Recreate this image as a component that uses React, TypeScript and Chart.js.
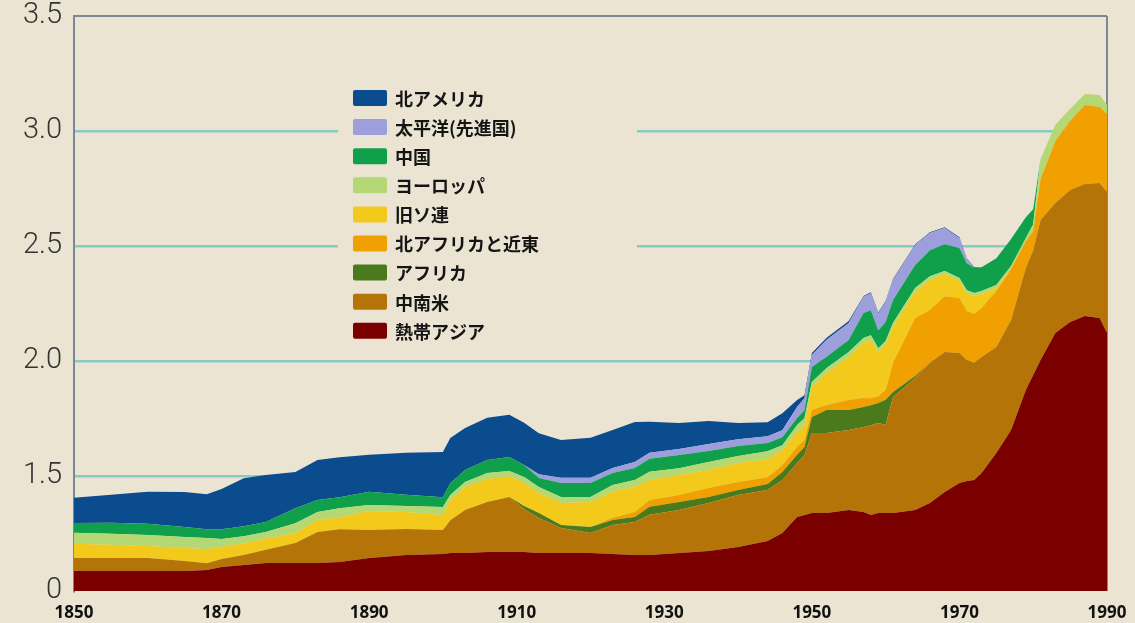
import React, { useEffect, useRef } from 'react';
import { Chart, registerables } from 'chart.js';

Chart.register(...registerables);

// ---- data (values in GtC above the axis base; the axis base is labelled "0") ----
const years = [
  1850, 1855, 1860, 1865, 1868, 1870, 1873, 1876, 1880, 1883,
  1886, 1890, 1895, 1900, 1901, 1903, 1906, 1909, 1911, 1913,
  1916, 1920, 1923, 1926, 1928, 1932, 1936, 1940, 1944, 1946,
  1948, 1949, 1950, 1952, 1955, 1957, 1958, 1959, 1960, 1961,
  1964, 1966, 1968, 1970, 1971, 1972, 1973, 1975, 1977, 1979,
  1980, 1981, 1983, 1985, 1987, 1989, 1990,
];

const tropicalAsia = [
  .087, .087, .087, .087, .091, .104, .113, .122, .122, .122,
  .126, .143, .157, .161, .165, .165, .170, .170, .170, .165,
  .165, .165, .161, .157, .157, .165, .174, .191, .217, .252,
  .322, .330, .339, .339, .352, .343, .330, .339, .339, .339,
  .352, .383, .430, .470, .478, .483, .513, .600, .700, .874,
  .939, 1.004, 1.122, 1.170, 1.196, 1.187, 1.122,
];

const latinAmerica = [
  .057, .057, .057, .043, .030, .035, .043, .057, .087, .135,
  .143, .122, .113, .104, .143, .187, .217, .239, .187, .152,
  .109, .087, .126, .143, .174, .187, .209, .226, .222, .230,
  .235, .261, .348, .348, .348, .370, .391, .391, .383, .504,
  .574, .609, .609, .565, .526, .509, .504, .461, .478, .530,
  .543, .609, .565, .574, .574, .587, .613,
];

const africa = [
  0, 0, 0, 0, 0, 0, 0, 0, 0, 0,
  0, 0, 0, 0, 0, 0, 0, 0, .013, .022,
  .013, .026, .022, .022, .035, .035, .026, .022, .026, .035,
  .035, .035, .070, .100, .087, .087, .087, .087, .109, .022,
  .009, 0, 0, 0, 0, 0, 0, 0, 0, 0,
  0, 0, 0, 0, 0, 0, 0,
];

const northAfricaNearEast = [
  0, 0, 0, 0, 0, 0, 0, 0, 0, 0,
  0, 0, 0, 0, 0, 0, 0, 0, 0, 0,
  0, 0, .009, .022, .030, .030, .039, .035, .030, .030,
  .035, .030, .030, .022, .043, .039, .030, .030, .043, .126,
  .252, .230, .243, .239, .213, .213, .213, .243, .222, .117,
  .083, .178, .270, .300, .343, .330, .339,
];

const formerUSSR = [
  .061, .057, .052, .057, .061, .052, .052, .048, .043, .052,
  .052, .083, .074, .065, .087, .100, .100, .091, .100, .087,
  .096, .109, .113, .109, .087, .087, .078, .083, .078, .065,
  .065, .065, .100, .139, .187, .239, .252, .191, .196, .157,
  .113, .130, .096, .074, .078, .078, .061, .013, 0, 0,
  0, 0, 0, 0, 0, 0, 0,
];

const europe = [
  .048, .048, .048, .048, .048, .035, .030, .030, .043, .035,
  .039, .026, .026, .035, .022, .022, .026, .022, .026, .026,
  .026, .022, .030, .030, .035, .030, .035, .030, .035, .022,
  .030, .030, .022, .022, .022, .022, .022, .017, .017, .017,
  .017, .017, .013, .013, .013, .013, .013, .013, .013, .013,
  .030, .087, .070, .052, .048, .052, .039,
];

const china = [
  .043, .048, .048, .043, .039, .043, .043, .043, .065, .052,
  .048, .057, .048, .043, .052, .052, .057, .061, .052, .039,
  .061, .061, .052, .052, .057, .057, .048, .043, .035, .035,
  .030, .035, .065, .048, .052, .109, .109, .078, .083, .100,
  .100, .113, .117, .130, .117, .109, .104, .117, .117, .091,
  .065, 0, 0, 0, 0, 0, 0,
];

const pacific = [
  0, 0, 0, 0, 0, 0, 0, 0, 0, 0,
  0, 0, 0, 0, 0, 0, 0, 0, 0, .017,
  .022, .022, .022, .026, .026, .026, .030, .030, .030, .030,
  .048, .052, .052, .074, .074, .070, .074, .074, .087, .087,
  .087, .074, .070, .043, .017, 0, 0, 0, 0, 0,
  0, 0, 0, 0, 0, 0, 0,
];

const northAmerica = [
  .109, .122, .139, .152, .152, .174, .209, .204, .157, .174,
  .174, .161, .183, .196, .196, .183, .183, .183, .183, .178,
  .165, .174, .165, .174, .135, .113, .100, .070, .061, .074,
  .030, .013, .009, .009, .009, .004, .004, .004, .004, .004,
  .004, .004, .004, .004, .004, .004, 0, 0, 0, 0,
  0, 0, 0, 0, 0, 0, 0,
];

// stacking order: bottom -> top
const seriesNames = [
  '熱帯アジア', '中南米', 'アフリカ', '北アフリカと近東', '旧ソ連',
  'ヨーロッパ', '中国', '太平洋(先進国)', '北アメリカ',
];
const seriesValues = [
  tropicalAsia, latinAmerica, africa, northAfricaNearEast, formerUSSR,
  europe, china, pacific, northAmerica,
];
const seriesColors = [
  '#7a0000', '#b47407', '#4b7a1c', '#f0a000', '#f3c91c',
  '#b4d873', '#10a04c', '#9c9fdc', '#0b4c8e',
];

const xTickValues = [1850, 1870, 1890, 1910, 1930, 1950, 1970, 1990];
const yTickValues = [0, 0.5, 1.0, 1.5, 2.0, 2.5];
const yTickLabels = ['0', '1.5', '2.0', '2.5', '3.0', '3.5'];

const BG = '#ebe4d3';
const FRAME = '#7b8893';
const GRID = '#86cbc4';

const legendPlugin = {
  id: 'boxLegend',
  afterDatasetsDraw(chart: any) {
    const ctx = chart.ctx as CanvasRenderingContext2D;
    ctx.save();
    ctx.fillStyle = BG;
    ctx.fillRect(338, 84, 299, 262);
    ctx.font = 'bold 18px "Noto Sans CJK JP", "Noto Sans", sans-serif';
    ctx.textBaseline = 'middle';
    ctx.textAlign = 'left';
    const n = seriesNames.length;
    for (let k = 0; k < n; k++) {
      const i = n - 1 - k;
      const cy = 98 + k * 29.1;
      ctx.fillStyle = seriesColors[i];
      ctx.beginPath();
      (ctx as any).roundRect ? (ctx as any).roundRect(353, cy - 8, 34, 16, 2) : ctx.rect(353, cy - 8, 34, 16);
      ctx.fill();
      ctx.fillStyle = '#151515';
      ctx.fillText(seriesNames[i], 395, cy + 1);
    }
    ctx.restore();
  },
};

export default function App() {
  const ref = useRef<HTMLCanvasElement | null>(null);

  useEffect(() => {
    document.body.style.margin = '0';
    document.body.style.background = BG;
    const canvas = ref.current;
    if (!canvas) return;

    const datasets = seriesValues.map((vals, i) => ({
      label: seriesNames[i],
      data: years.map((yr, j) => ({ x: yr, y: vals[j] })),
      backgroundColor: seriesColors[i],
      borderColor: seriesColors[i],
      borderWidth: 0,
      pointRadius: 0,
      tension: 0,
      fill: i === 0 ? 'origin' : '-1',
    }));

    const chart = new Chart(canvas, {
      type: 'line',
      data: { datasets },
      plugins: [legendPlugin],
      options: {
        animation: false,
        responsive: false,
        maintainAspectRatio: false,
        layout: { padding: { top: 16, right: 28, left: 0, bottom: 0 } },
        plugins: {
          legend: { display: false },
          tooltip: { enabled: false },
        },
        scales: {
          x: {
            type: 'linear',
            min: 1850,
            max: 1990,
            afterFit: (s: any) => {
              s.height = 32;
              s.paddingLeft = 0;
              s.paddingRight = 0;
            },
            afterBuildTicks: (s: any) => { s.ticks = xTickValues.map((v) => ({ value: v })); },
            ticks: {
              autoSkip: false,
              maxRotation: 0,
              padding: 12,
              color: '#111',
              font: { family: '"Noto Sans", sans-serif', weight: 'bold', size: 17 },
              callback: (v: any) => String(v),
            },
            grid: {
              drawTicks: false,
              lineWidth: 2,
              color: (c: any) => (c.tick && c.tick.value === 1990 ? FRAME : 'rgba(0,0,0,0)'),
            },
            border: { display: false },
          },
          y: {
            type: 'linear',
            stacked: true,
            min: 0,
            max: 2.5,
            afterFit: (s: any) => {
              s.width = 74;
              s.paddingTop = 0;
              s.paddingBottom = 0;
            },
            afterBuildTicks: (s: any) => { s.ticks = yTickValues.map((v) => ({ value: v })); },
            ticks: {
              padding: 12,
              color: '#333',
              font: { family: 'Roboto, sans-serif', weight: '300', size: 29 },
              callback: (v: any) => {
                const idx = yTickValues.indexOf(Number(v));
                return idx >= 0 ? yTickLabels[idx] : '';
              },
            },
            grid: {
              drawTicks: false,
              lineWidth: (c: any) => (c.tick && c.tick.value === 2.5 ? 2 : 2.5),
              color: (c: any) => {
                const v = c.tick ? c.tick.value : -1;
                if (v === 2.5) return FRAME;
                if (v === 0) return 'rgba(0,0,0,0)';
                return GRID;
              },
            },
            border: { display: true, color: FRAME, width: 2 },
          },
        },
      } as any,
    });

    return () => chart.destroy();
  }, []);

  return (
    <div style={{ position: 'absolute', left: 0, top: 0, width: 1135, height: 623, background: BG }}>
      <canvas ref={ref} width={1135} height={623} style={{ display: 'block', width: 1135, height: 623 }} />
    </div>
  );
}
